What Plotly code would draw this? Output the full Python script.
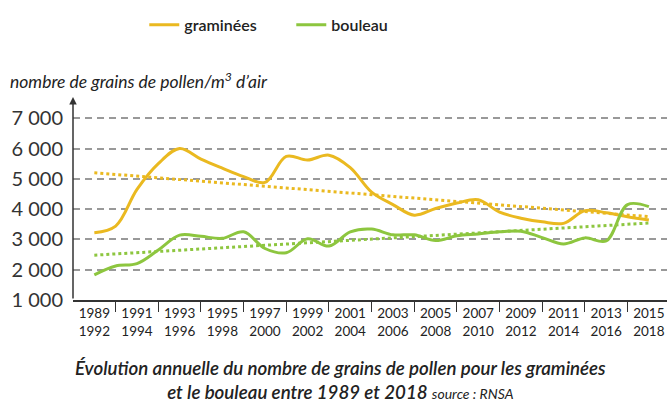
import plotly.graph_objects as go

years = [1989, 1990, 1991, 1992, 1993, 1994, 1995, 1996, 1997, 1998, 1999, 2000, 2001, 2002,
         2003, 2004, 2005, 2006, 2007, 2008, 2009, 2010, 2011, 2012, 2013, 2014, 2015]
graminees = [3220, 3440, 4650, 5500, 6000, 5650, 5350, 5070, 4880, 5740, 5620, 5780, 5370, 4560,
             4150, 3800, 4020, 4200, 4310, 3900, 3700, 3580, 3530, 3950, 3880, 3750, 3640]
bouleau = [1830, 2120, 2200, 2650, 3140, 3100, 3035, 3250, 2700, 2560, 3020, 2780, 3250, 3340,
           3150, 3150, 2960, 3120, 3180, 3250, 3270, 3060, 2850, 3050, 2950, 4150, 4080]

trend_years = [1989, 2015]
graminees_trend = [5200, 3750]
bouleau_trend = [2480, 3540]

period_positions = [1989, 1991, 1993, 1995, 1997, 1999, 2001, 2003, 2005, 2007, 2009, 2011, 2013, 2015]
period_labels = ["1989<br>1992", "1991<br>1994", "1993<br>1996", "1995<br>1998", "1997<br>2000",
                 "1999<br>2002", "2001<br>2004", "2003<br>2006", "2005<br>2008", "2007<br>2010",
                 "2009<br>2012", "2011<br>2014", "2013<br>2016", "2015<br>2018"]
period_bounds = [1990, 1992, 1994, 1996, 1998, 2000, 2002, 2004, 2006, 2008, 2010, 2012, 2014]

y_ticks = [1000, 2000, 3000, 4000, 5000, 6000, 7000]
y_labels = ["1 000", "2 000", "3 000", "4 000", "5 000", "6 000", "7 000"]

YELLOW = "#EAB920"
GREEN = "#8DC63F"
FONT = "Lato"

fig = go.Figure()
fig.add_trace(go.Scatter(x=trend_years, y=graminees_trend, mode="lines", showlegend=False,
                         line=dict(color=YELLOW, width=3, dash="dot")))
fig.add_trace(go.Scatter(x=trend_years, y=bouleau_trend, mode="lines", showlegend=False,
                         line=dict(color=GREEN, width=3, dash="dot")))
fig.add_trace(go.Scatter(x=years, y=graminees, mode="lines", name="graminées",
                         line=dict(color=YELLOW, width=3, shape="spline", smoothing=1.0)))
fig.add_trace(go.Scatter(x=years, y=bouleau, mode="lines", name="bouleau",
                         line=dict(color=GREEN, width=3, shape="spline", smoothing=1.0)))

fig.update_layout(
    width=667, height=403,
    margin=dict(l=73, r=0, t=97, b=103, autoexpand=False),
    plot_bgcolor="white", paper_bgcolor="white",
    font=dict(family=FONT, color="#222"),
    legend=dict(orientation="h", x=0.12, xanchor="left", y=1.355, yanchor="middle",
                font=dict(size=16, color="#222", weight=600), entrywidth=102,
                traceorder="normal"),
    xaxis=dict(
        range=[1988, 2015.85], showgrid=False, zeroline=False, automargin=False,
        tickmode="array", tickvals=period_positions, ticktext=period_labels,
        ticks="", tickfont=dict(size=13.5, color="#222"),
        showline=True, linecolor="#333", linewidth=1.5,
        minor=dict(tickmode="array", tickvals=period_bounds, ticks="outside",
                   ticklen=10, tickwidth=1.2, tickcolor="#333", showgrid=False),
    ),
    yaxis=dict(
        range=[1000, 7700], zeroline=False, showline=False, automargin=False,
        tickmode="array", tickvals=y_ticks, ticktext=y_labels,
        ticks="", ticklabelstandoff=9, tickfont=dict(size=20, color="#333"),
        showgrid=True, gridcolor="#999", gridwidth=1.5, griddash="7px,5px",
    ),
)

# y axis with arrow
fig.add_annotation(x=1988, y=7700, ax=1988, ay=1000, xref="x", yref="y", axref="x", ayref="y",
                   showarrow=True, arrowhead=2, arrowsize=1, arrowwidth=1.5, arrowcolor="#333",
                   text="", standoff=0)

# y axis title
fig.add_annotation(xref="paper", yref="paper", x=-0.11, y=1.08, xanchor="left", yanchor="middle",
                   text="nombre de grains de pollen/m<sup>3</sup> d’air", showarrow=False,
                   font=dict(size=17.5, color="#222", style="italic"))

# caption
fig.add_annotation(xref="paper", yref="paper", x=0.4495, y=-0.395, xanchor="center", yanchor="middle",
                   text="Évolution annuelle du nombre de grains de pollen pour les graminées<br>"
                        "et le bouleau entre 1989 et 2018 "
                        "<span style='font-size:14px;font-weight:400'>source : RNSA</span>",
                   showarrow=False, align="center",
                   font=dict(size=18.7, color="#222", style="italic", weight=600))

fig.write_html("out.html", config={"displayModeBar": False},
               post_script="document.body.style.margin='0';document.body.style.overflow='hidden';")
